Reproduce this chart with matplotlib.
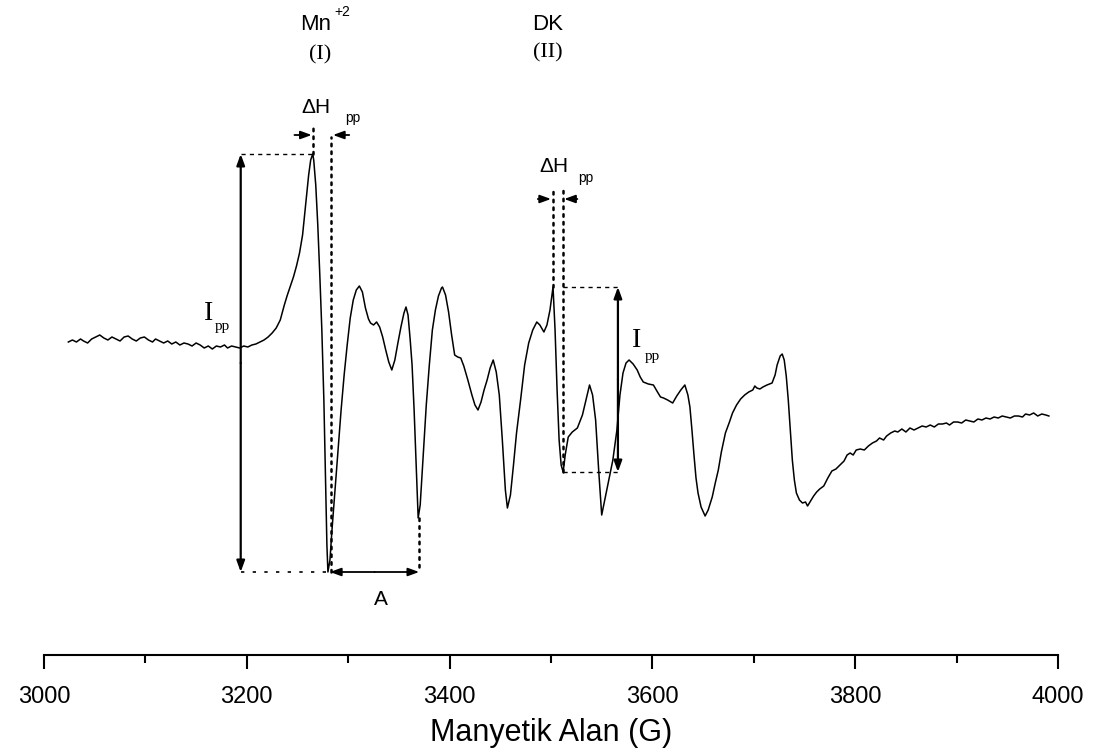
import matplotlib.pyplot as plt

plt.rcParams["font.family"] = ["Liberation Sans", "DejaVu Sans"]

# EPR spectrum, field in gauss, intensity in arbitrary units (baseline = 0)
field_g = [
    3024, 3028, 3032, 3036, 3039, 3043, 3047, 3051, 3055, 3059, 3063, 3067, 3071, 3075, 3079, 3083,
    3087, 3091, 3095, 3099, 3103, 3107, 3110, 3114, 3118, 3122, 3126, 3130, 3134, 3138, 3142, 3146,
    3150, 3154, 3158, 3162, 3166, 3170, 3174, 3178, 3181, 3185, 3189, 3193, 3197, 3201, 3205, 3209,
    3213, 3217, 3221, 3225, 3229, 3233, 3237, 3240, 3243, 3246, 3249, 3252, 3255, 3257, 3259, 3261,
    3263, 3265, 3266, 3268, 3270, 3272, 3274, 3276, 3277, 3278, 3279, 3280, 3282, 3284, 3287, 3290,
    3293, 3296, 3299, 3302, 3305, 3308, 3311, 3314, 3317, 3320, 3322, 3325, 3328, 3331, 3334, 3337,
    3340, 3343, 3346, 3349, 3352, 3355, 3357, 3359, 3361, 3363, 3365, 3367, 3369, 3371, 3374, 3377,
    3380, 3383, 3386, 3389, 3392, 3393, 3396, 3399, 3402, 3405, 3408, 3411, 3414, 3418, 3422, 3425,
    3428, 3431, 3434, 3437, 3440, 3443, 3446, 3449, 3452, 3455, 3457, 3460, 3463, 3466, 3470, 3474,
    3478, 3482, 3486, 3489, 3493, 3496, 3499, 3501, 3502, 3504, 3506, 3508, 3510, 3512, 3514, 3517,
    3521, 3526, 3531, 3535, 3538, 3541, 3544, 3547, 3550, 3553, 3557, 3561, 3565, 3568, 3571, 3574,
    3577, 3581, 3585, 3588, 3591, 3596, 3601, 3605, 3608, 3611, 3615, 3620, 3624, 3628, 3632, 3635,
    3637, 3639, 3641, 3643, 3645, 3648, 3652, 3655, 3659, 3662, 3665, 3668, 3672, 3676, 3679, 3683,
    3687, 3691, 3695, 3699, 3701, 3703, 3706, 3709, 3713, 3718, 3721, 3723, 3726, 3728, 3730, 3732,
    3734, 3736, 3738, 3740, 3742, 3745, 3748, 3751, 3753, 3756, 3759, 3762, 3765, 3769, 3773, 3777,
    3781, 3785, 3789, 3792, 3795, 3798, 3801, 3805, 3809, 3813, 3817, 3821, 3824, 3828, 3831, 3835,
    3839, 3842, 3846, 3850, 3854, 3858, 3862, 3866, 3870, 3874, 3878, 3882, 3886, 3890, 3893, 3897,
    3901, 3905, 3909, 3913, 3917, 3921, 3925, 3929, 3933, 3937, 3941, 3945, 3949, 3953, 3957, 3961,
    3965, 3968, 3972, 3976, 3980, 3984, 3988, 3991,
]
signal = [
    5, 7, 5, 8, 6, 4, 8, 10, 12, 9, 7, 10, 8, 6, 10, 11,
    8, 6, 9, 10, 7, 5, 8, 6, 4, 6, 3, 5, 2, 4, 3, 1,
    4, 2, -1, 1, -2, 1, 0, 2, -1, 1, 0, -1, 1, 0, 2, 3,
    5, 7, 10, 14, 19, 27, 42, 52, 61, 70, 81, 94, 112, 132, 152, 172,
    187, 193, 187, 162, 122, 72, 17, -53, -103, -153, -198, -225, -213, -183, -143, -103,
    -63, -28, 2, 29, 47, 57, 61, 55, 39, 28, 24, 22, 25, 20, 10, -3,
    -15, -23, -13, 4, 20, 34, 40, 32, 9, -18, -63, -118, -171, -158, -108, -58,
    -18, 17, 37, 51, 59, 60, 52, 35, 12, -8, -10, -11, -19, -33, -48, -58,
    -63, -55, -43, -33, -21, -13, -25, -48, -93, -143, -161, -148, -118, -86, -53, -18,
    4, 17, 25, 22, 15, 22, 37, 52, 60, 17, -43, -93, -118, -125, -108, -90,
    -85, -81, -68, -51, -38, -48, -73, -123, -168, -153, -133, -113, -83, -48, -26, -16,
    -13, -17, -23, -30, -35, -37, -38, -45, -50, -51, -53, -56, -49, -43, -38, -48,
    -60, -83, -108, -131, -146, -160, -169, -163, -150, -136, -123, -105, -86, -75, -66, -58,
    -52, -48, -45, -43, -39, -41, -42, -40, -38, -36, -28, -18, -9, -7, -13, -29,
    -53, -83, -113, -133, -146, -153, -156, -155, -159, -154, -149, -145, -142, -139, -131, -124,
    -122, -118, -114, -108, -106, -108, -103, -102, -103, -99, -96, -94, -91, -93, -89, -86,
    -84, -85, -82, -85, -81, -83, -81, -79, -80, -78, -80, -77, -77, -76, -78, -75,
    -75, -76, -73, -74, -75, -72, -73, -71, -72, -70, -71, -69, -70, -71, -69, -69,
    -70, -67, -68, -66, -69, -67, -68, -69,
]

major_ticks = [3000, 3200, 3400, 3600, 3800, 4000]
minor_ticks = [3100, 3300, 3500, 3700, 3900]

# line positions (G) used by the annotations
mn_peak_g, mn_min_g, mn_next_min_g = 3265, 3280, 3369
dk_peak_g, dk_min_g = 3502, 3512


def sig_at(g):
    return signal[field_g.index(g)]


def arrow(x0, y0, x1, y1, style="-|>", lw=1.3):
    ax.annotate("", xy=(x1, y1), xytext=(x0, y0),
                arrowprops=dict(arrowstyle=style + ",head_length=0.55,head_width=0.2",
                                lw=lw, color="black", shrinkA=0, shrinkB=0,
                                mutation_scale=12))


fig = plt.figure(figsize=(11.05, 7.53), dpi=100)
ax = fig.add_axes([44 / 1105, 98 / 753, 1014 / 1105, 655 / 753])

ax.plot(field_g, signal, color="black", lw=1.1)

dots = dict(color="black", lw=1.8, linestyle=(0, (1, 2.1)), dash_capstyle="round")
dash = dict(color="black", lw=1.0, linestyle=(0, (3, 3)))

# Mn+2 line: I_pp, delta H_pp and hyperfine splitting A
top, bot = sig_at(mn_peak_g), sig_at(mn_min_g)
arrow(3194, (top + bot) / 2, 3194, top, lw=1.6)
arrow(3194, (top + bot) / 2, 3194, bot, lw=1.6)
ax.plot([3194, mn_peak_g], [top, top], **dash)
ax.plot([3194, mn_min_g], [bot, bot], color="black", lw=1.2, linestyle=(0, (2, 5)))
ax.plot([mn_peak_g, mn_peak_g], [top, 220], **dots)
ax.plot([3283, 3283], [bot, 210], **dots)
arrow(3247, 212, 3264, 212)
arrow(3301, 212, 3285, 212)
arrow(3326, bot, mn_min_g + 2, bot)
arrow(3326, bot, mn_next_min_g + 1, bot)
ax.plot([mn_next_min_g + 1, mn_next_min_g + 1], [sig_at(mn_next_min_g), bot], **dots)

# DK line
top2, bot2 = sig_at(dk_peak_g), sig_at(dk_min_g)
ax.plot([dk_peak_g, dk_peak_g], [top2, 157], **dots)
ax.plot([dk_min_g, dk_min_g], [bot2, 157], **dots)
arrow(3487, 148, 3500, 148)
arrow(3526, 148, 3513, 148)
ax.plot([dk_min_g, 3566], [top2, top2], **dash)
ax.plot([dk_min_g, 3566], [bot2, bot2], **dash)
arrow(3566, (top2 + bot2) / 2, 3566, top2, lw=1.6)
arrow(3566, (top2 + bot2) / 2, 3566, bot2, lw=1.6)

# labels
serif = ["Liberation Serif", "DejaVu Serif"]
ax.text(3268, 317, "Mn", fontsize=16, ha="center", va="baseline")
ax.text(3294, 331, "+2", fontsize=10, ha="center", va="baseline")
ax.text(3272, 288, "(I)", fontsize=16, family=serif, ha="center", va="baseline")
ax.text(3497, 317, "DK", fontsize=16, ha="center", va="baseline")
ax.text(3497, 290, "(II)", fontsize=16, family=serif, ha="center", va="baseline")

ax.text(3268, 234, "ΔH", fontsize=15, ha="center", va="baseline")
ax.text(3305, 225, "pp", fontsize=10, ha="center", va="baseline")
ax.text(3503, 175, "ΔH", fontsize=15, ha="center", va="baseline")
ax.text(3534, 165, "pp", fontsize=10, ha="center", va="baseline")

ax.text(3162, 27, "I", fontsize=20, family=serif, ha="center", va="baseline")
ax.text(3176, 17, "pp", fontsize=11, family=serif, ha="center", va="baseline")
ax.text(3584, 0, "I", fontsize=20, family=serif, ha="center", va="baseline")
ax.text(3600, -13, "pp", fontsize=11, family=serif, ha="center", va="baseline")

ax.text(3332, -258, "A", fontsize=15, ha="center", va="baseline")

# axes
ax.set_xlim(3000, 4000)
ax.set_ylim(-308, 347)
ax.set_xticks(major_ticks)
ax.set_xticks(minor_ticks, minor=True)
ax.set_yticks([])
for side in ["top", "left", "right"]:
    ax.spines[side].set_visible(False)
ax.spines["bottom"].set_linewidth(1.5)
ax.tick_params(axis="x", which="major", direction="out", length=10, width=1.5,
               labelsize=17, pad=12)
ax.tick_params(axis="x", which="minor", direction="out", length=6, width=1.5)
ax.set_xlabel("Manyetik Alan (G)", fontsize=22)
ax.xaxis.set_label_coords(0.5, -0.096)
ax.patch.set_visible(False)

fig.savefig("out.png", dpi=100)
